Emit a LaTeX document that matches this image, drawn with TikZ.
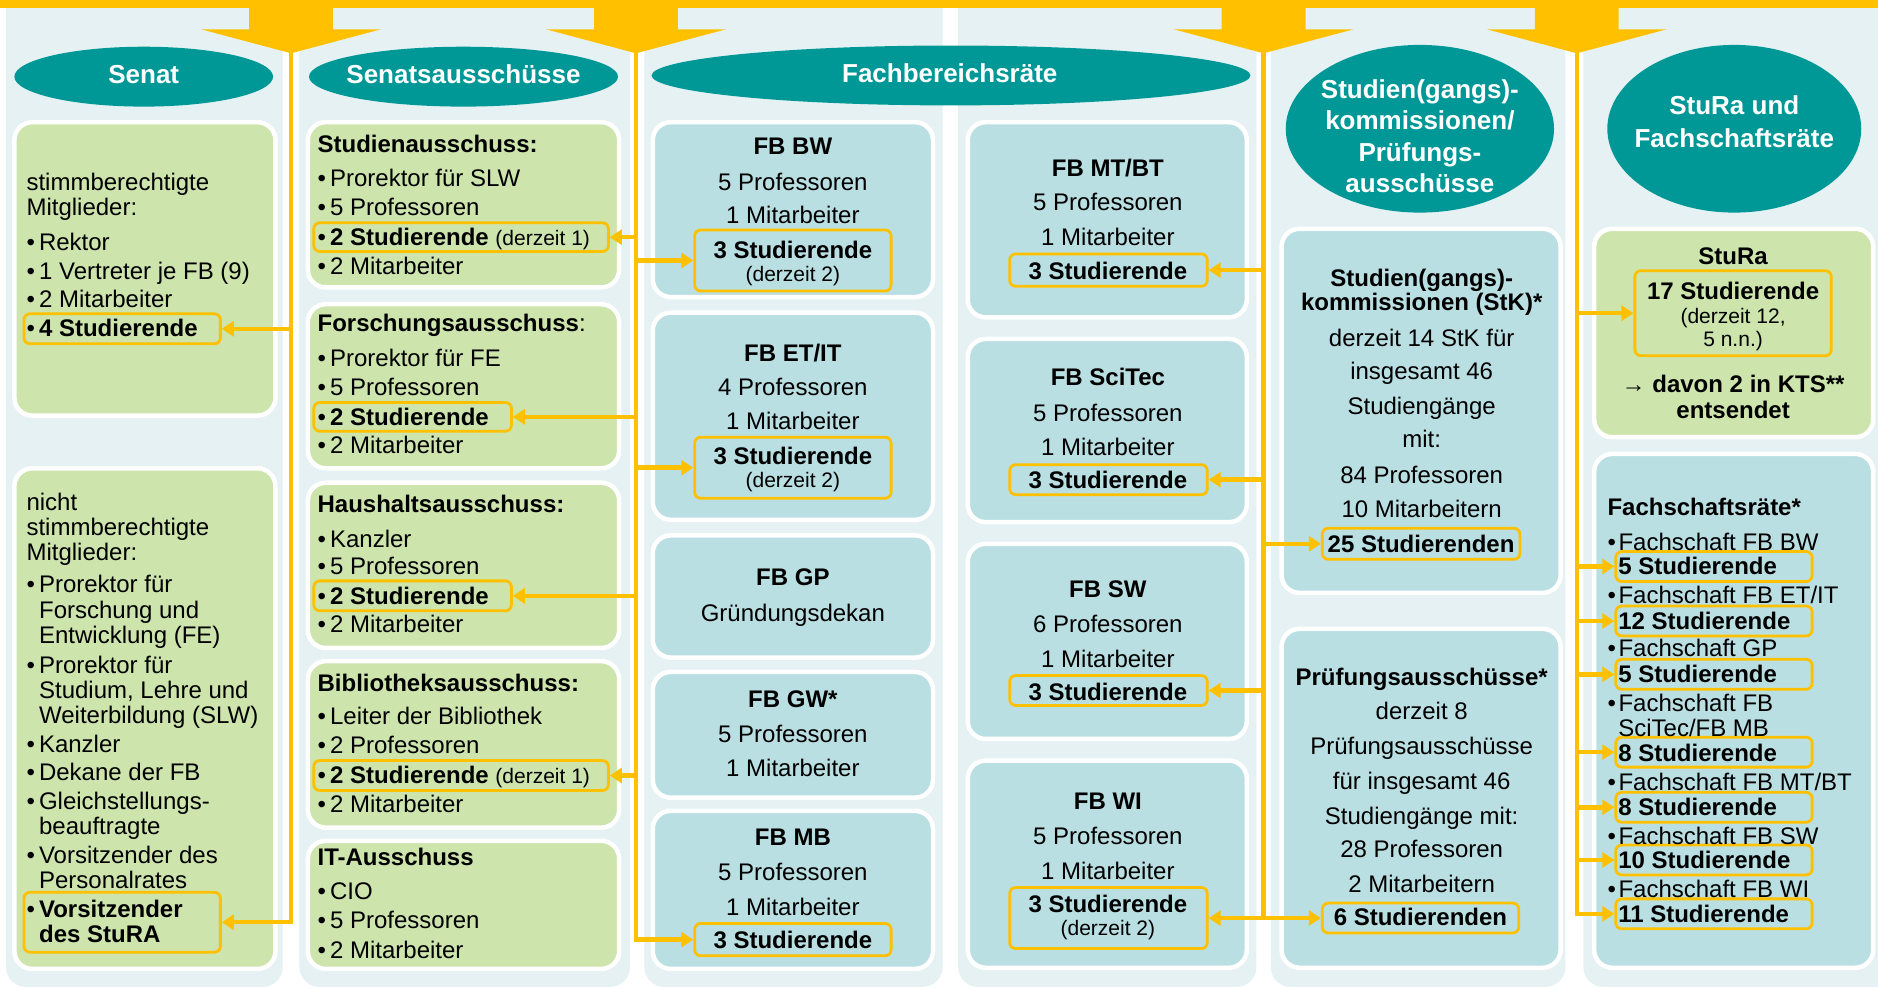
\documentclass[tikz,border=0pt]{standalone}
\usepackage{fontspec}
\setmainfont{Liberation Sans}
\usetikzlibrary{arrows.meta,fit}
\definecolor{ylw}{HTML}{FFC000}
\definecolor{tealh}{HTML}{009896}
\definecolor{colbg}{HTML}{E5F1F3}
\definecolor{grn}{HTML}{CDE4AD}
\definecolor{lbl}{HTML}{BADFE2}
\tikzset{
  tx/.style={inner sep=0pt, font=\fontsize{24}{28}\selectfont},
  hd/.style={inner sep=0pt, text=white, font=\bfseries\fontsize{26}{30}\selectfont, anchor=base},
  hl/.style={draw=ylw, line width=2.8pt, rounded corners=6pt, inner sep=0pt},
  greenbox/.style={draw=white, line width=4.5pt, fill=grn, rounded corners=18pt},
  bluebox/.style={draw=white, line width=4.5pt, fill=lbl, rounded corners=18pt},
  panel/.style={fill=colbg, rounded corners=20pt},
  arr/.style={draw=ylw, line width=4.5pt, -{Triangle[length=12pt,width=15pt]}},
  headell/.style={fill=tealh}
}
\newcommand\mytl[4]{\node[tx,anchor=base west] (#1) at (#2,#3) {#4};}
\newcommand\mytc[4]{\node[tx,anchor=base] (#1) at (#2,#3) {#4};}
\newcommand\myhl[5]{\node[hl,fit={(#2,#3) (#4,#5)}] (#1) {};}
\newcommand\mybu{\makebox[12.5pt][l]{•}}
\newcommand\mybv{\makebox[11pt][l]{•}}
\newcommand\mysm[1]{{\fontsize{21}{24}\selectfont #1}}
\begin{document}
\begin{tikzpicture}[x=1.1977pt,y=-1.1977pt]
\useasboundingbox (0,0) rectangle (1568,825);
\fill[white] (0,0) rectangle (1568,825);
% column panels
\fill[panel] (5,-40) rectangle (236,824);
\fill[panel] (250,-40) rectangle (526,824);
\fill[panel] (538,-40) rectangle (787,824);
\fill[panel] (800,-40) rectangle (1049,824);
\fill[panel] (1061,-40) rectangle (1307,824);
\fill[panel] (1322,-40) rectangle (1600,824);
% top band and arrows
\fill[ylw] (0,0) rectangle (1568,6.5);
\fill[ylw] (208,5) -- (208,24.5) -- (168,24.5) -- (243,44.5) -- (318,24.5) -- (278,24.5) -- (278,5) -- cycle;
\fill[ylw] (496,5) -- (496,24.5) -- (456,24.5) -- (531,44.5) -- (606,24.5) -- (566,24.5) -- (566,5) -- cycle;
\fill[ylw] (1020,5) -- (1020,24.5) -- (980,24.5) -- (1055,44.5) -- (1130,24.5) -- (1090,24.5) -- (1090,5) -- cycle;
\fill[ylw] (1281.5,5) -- (1281.5,24.5) -- (1241.5,24.5) -- (1316.5,44.5) -- (1391.5,24.5) -- (1351.5,24.5) -- (1351.5,5) -- cycle;
% heading ellipses
\fill[headell] (120,64) ellipse [x radius=108, y radius=25];
\fill[headell] (387,64) ellipse [x radius=129, y radius=25];
\fill[headell] (794,63) ellipse [x radius=250, y radius=25];
\fill[headell] (1185.5,107.5) ellipse [x radius=112, y radius=70];
\fill[headell] (1448,107.5) ellipse [x radius=106, y radius=70];
\node[hd] (h1) at (120,70) {Senat};
\node[hd] (h2) at (387,70) {Senatsausschüsse};
\node[hd] (h3) at (793,69) {Fachbereichsräte};
\node[hd] (h4a) at (1185.5,82) {Studien(gangs)-};
\node[hd] (h4b) at (1185.5,108) {kommissionen/};
\node[hd] (h4c) at (1185.5,134.5) {Prüfungs-};
\node[hd] (h4d) at (1185.5,160.5) {ausschüsse};
\node[hd] (h5a) at (1448,96) {StuRa und};
\node[hd] (h5b) at (1448,123) {Fachschaftsräte};
% boxes
\draw[greenbox] (12,102) rectangle (230,347);
\draw[greenbox] (12,391) rectangle (230,809);
\draw[greenbox] (257,102) rectangle (517,240);
\draw[greenbox] (257,254) rectangle (517,391);
\draw[greenbox] (257,403) rectangle (517,541);
\draw[greenbox] (257,552) rectangle (517,691);
\draw[greenbox] (257,702) rectangle (517,809);
\draw[bluebox] (545,102) rectangle (779,248);
\draw[bluebox] (545,261) rectangle (779,434);
\draw[bluebox] (545,447) rectangle (779,549);
\draw[bluebox] (545,561) rectangle (779,666);
\draw[bluebox] (545,677) rectangle (779,809);
\draw[bluebox] (808,102) rectangle (1041,265);
\draw[bluebox] (808,283) rectangle (1041,436);
\draw[bluebox] (808,454) rectangle (1041,617);
\draw[bluebox] (808,635) rectangle (1041,808);
\draw[bluebox] (1070,191) rectangle (1303,495);
\draw[bluebox] (1070,525) rectangle (1303,808);
\draw[greenbox] (1331,191) rectangle (1564,365);
\draw[bluebox] (1331,379) rectangle (1564,808);
% highlight boxes
\myhl{hlS1}{20}{262}{184}{287}
\myhl{hlS2}{20}{745}{184}{795}
\myhl{hlA1}{262}{186}{508}{210}
\myhl{hlA2}{262}{336}{427}{360}
\myhl{hlA3}{262}{485}{427}{510}
\myhl{hlA4}{262}{635}{508}{660}
\myhl{hlBW}{580}{192}{744}{243}
\myhl{hlET}{580}{365}{744}{416}
\myhl{hlMB}{580}{771}{744}{798}
\myhl{hlMT}{843}{212}{1008}{239}
\myhl{hlSC}{843}{388}{1008}{413}
\myhl{hlSW}{843}{564}{1008}{589}
\myhl{hlWI}{843}{741}{1008}{792}
\myhl{hlStK}{1104}{441}{1269}{467}
\myhl{hlPr}{1104}{754}{1268}{779}
\myhl{hlSR}{1365}{226}{1529}{297}
\myhl{fs1}{1349}{460.5}{1513}{485.5}
\myhl{fs2}{1349}{506}{1513}{531}
\myhl{fs3}{1349}{550.5}{1513}{575.5}
\myhl{fs4}{1349}{615.5}{1513}{640.5}
\myhl{fs5}{1349}{661.5}{1513}{686.5}
\myhl{fs6}{1349}{705.5}{1513}{730.5}
\myhl{fs7}{1349}{750.5}{1513}{775.5}
% Senat texts
\mytl{sa1}{22}{159}{stimmberechtigte}
\mytl{sa2}{22}{180}{Mitglieder:}
\mytl{sa3}{22}{209}{\mybu Rektor}
\mytl{sa4}{22}{233}{\mybu 1 Vertreter je FB (9)}
\mytl{sa5}{22}{257}{\mybu 2 Mitarbeiter}
\mytl{sa6}{22}{281}{\mybu\textbf{4 Studierende}}
\mytl{sb1}{22}{426}{nicht}
\mytl{sb2}{22}{447}{stimmberechtigte}
\mytl{sb3}{22}{468}{Mitglieder:}
\mytl{sb4}{22}{495}{\mybu Prorektor für}
\mytl{sb5}{32.5}{516}{Forschung und}
\mytl{sb6}{32.5}{537}{Entwicklung (FE)}
\mytl{sb7}{22}{562}{\mybu Prorektor für}
\mytl{sb8}{32.5}{583}{Studium, Lehre und}
\mytl{sb9}{32.5}{604}{Weiterbildung (SLW)}
\mytl{sb10}{22}{628}{\mybu Kanzler}
\mytl{sb11}{22}{652}{\mybu Dekane der FB}
\mytl{sb12}{22}{676}{\mybu Gleichstellungs-}
\mytl{sb13}{32.5}{697}{beauftragte}
\mytl{sb14}{22}{721}{\mybu Vorsitzender des}
\mytl{sb15}{32.5}{742}{Personalrates}
\mytl{sb16}{22}{766}{\mybu\textbf{Vorsitzender}}
\mytl{sb17}{32.5}{787}{\textbf{des StuRA}}
% Senatsausschuesse texts
\mytl{aa1}{265}{127}{\textbf{Studienausschuss:}}
\mytl{aa2}{265}{156}{\mybu Prorektor für SLW}
\mytl{aa3}{265}{180}{\mybu 5 Professoren}
\mytl{aa4}{265}{205}{\mybu\textbf{2 Studierende} \mysm{(derzeit 1)}}
\mytl{aa5}{265}{229}{\mybu 2 Mitarbeiter}
\mytl{ab1}{265}{277}{\textbf{Forschungsausschuss}:}
\mytl{ab2}{265}{306}{\mybu Prorektor für FE}
\mytl{ab3}{265}{330}{\mybu 5 Professoren}
\mytl{ab4}{265}{355}{\mybu\textbf{2 Studierende}}
\mytl{ab5}{265}{379}{\mybu 2 Mitarbeiter}
\mytl{ac1}{265}{428}{\textbf{Haushaltsausschuss:}}
\mytl{ac2}{265}{457}{\mybu Kanzler}
\mytl{ac3}{265}{480}{\mybu 5 Professoren}
\mytl{ac4}{265}{504.5}{\mybu\textbf{2 Studierende}}
\mytl{ac5}{265}{528}{\mybu 2 Mitarbeiter}
\mytl{ad1}{265}{577}{\textbf{Bibliotheksausschuss:}}
\mytl{ad2}{265}{605}{\mybu Leiter der Bibliothek}
\mytl{ad3}{265}{629}{\mybu 2 Professoren}
\mytl{ad4}{265}{654}{\mybu\textbf{2 Studierende} \mysm{(derzeit 1)}}
\mytl{ad5}{265}{678}{\mybu 2 Mitarbeiter}
\mytl{ae1}{265}{723}{\textbf{IT-Ausschuss}}
\mytl{ae2}{265}{751}{\mybu CIO}
\mytl{ae3}{265}{775}{\mybu 5 Professoren}
\mytl{ae4}{265}{800}{\mybu 2 Mitarbeiter}
% FB column 1
\mytc{fa1}{662}{129}{\textbf{FB BW}}
\mytc{fa2}{662}{159}{5 Professoren}
\mytc{fa3}{662}{187}{1 Mitarbeiter}
\mytc{fa4}{662}{216}{\textbf{3 Studierende}}
\mytc{fa5}{662}{235}{\mysm{(derzeit 2)}}
\mytc{fb1}{662}{302}{\textbf{FB ET/IT}}
\mytc{fb2}{662}{330}{4 Professoren}
\mytc{fb3}{662}{359}{1 Mitarbeiter}
\mytc{fb4}{662}{388}{\textbf{3 Studierende}}
\mytc{fb5}{662}{407}{\mysm{(derzeit 2)}}
\mytc{fc1}{662}{489}{\textbf{FB GP}}
\mytc{fc2}{662}{519}{Gründungsdekan}
\mytc{fd1}{662}{591}{\textbf{FB GW*}}
\mytc{fd2}{662}{620}{5 Professoren}
\mytc{fd3}{662}{648}{1 Mitarbeiter}
\mytc{fe1}{662}{706}{\textbf{FB MB}}
\mytc{fe2}{662}{735}{5 Professoren}
\mytc{fe3}{662}{764}{1 Mitarbeiter}
\mytc{fe4}{662}{792}{\textbf{3 Studierende}}
% FB column 2
\mytc{ga1}{925}{147}{\textbf{FB MT/BT}}
\mytc{ga2}{925}{176}{5 Professoren}
\mytc{ga3}{925}{205}{1 Mitarbeiter}
\mytc{ga4}{925}{233}{\textbf{3 Studierende}}
\mytc{gb1}{925}{322}{\textbf{FB SciTec}}
\mytc{gb2}{925}{352}{5 Professoren}
\mytc{gb3}{925}{380}{1 Mitarbeiter}
\mytc{gb4}{925}{408}{\textbf{3 Studierende}}
\mytc{gc1}{925}{499}{\textbf{FB SW}}
\mytc{gc2}{925}{528}{6 Professoren}
\mytc{gc3}{925}{557}{1 Mitarbeiter}
\mytc{gc4}{925}{585}{\textbf{3 Studierende}}
\mytc{gd1}{925}{676}{\textbf{FB WI}}
\mytc{gd2}{925}{705}{5 Professoren}
\mytc{gd3}{925}{734}{1 Mitarbeiter}
\mytc{gd4}{925}{762}{\textbf{3 Studierende}}
\mytc{gd5}{925}{781}{\mysm{(derzeit 2)}}
% StK / Pruefung
\mytc{ka1}{1187}{239}{\textbf{Studien(gangs)-}}
\mytc{ka2}{1187}{259}{\textbf{kommissionen (StK)*}}
\mytc{ka3}{1187}{289}{derzeit 14 StK für}
\mytc{ka4}{1187}{317}{insgesamt 46}
\mytc{ka5}{1187}{346}{Studiengänge}
\mytc{ka6}{1187}{374}{mit:}
\mytc{ka7}{1187}{404}{84 Professoren}
\mytc{ka8}{1187}{432}{10 Mitarbeitern}
\mytc{ka9}{1186.5}{461}{\textbf{25 Studierenden}}
\mytc{pa1}{1187}{572}{\textbf{Prüfungsausschüsse*}}
\mytc{pa2}{1187}{601}{derzeit 8}
\mytc{pa3}{1187}{630}{Prüfungsausschüsse}
\mytc{pa4}{1187}{659}{für insgesamt 46}
\mytc{pa5}{1187}{688}{Studiengänge mit:}
\mytc{pa6}{1187}{716}{28 Professoren}
\mytc{pa7}{1187}{745}{2 Mitarbeitern}
\mytc{pa8}{1186}{773}{\textbf{6 Studierenden}}
% StuRa
\mytc{ra1}{1447}{221}{\textbf{StuRa}}
\mytc{ra2}{1447}{250}{\textbf{17 Studierende}}
\mytc{ra3}{1447}{270}{\mysm{(derzeit 12,}}
\mytc{ra4}{1447}{289}{\mysm{5 n.n.)}}
\mytc{ra5}{1447}{328}{\textbf{→ davon 2 in KTS**}}
\mytc{ra6}{1447}{349}{\textbf{entsendet}}
% Fachschaftsraete
\mytl{fr0}{1342}{430}{\textbf{Fachschaftsräte*}}
\mytl{fr1}{1342}{459.5}{\mybv Fachschaft FB BW}
\mytl{fr2}{1351}{480}{\textbf{5 Studierende}}
\mytl{fr3}{1342}{504}{\mybv Fachschaft FB ET/IT}
\mytl{fr4}{1351}{525.5}{\textbf{12 Studierende}}
\mytl{fr5}{1342}{548}{\mybv Fachschaft GP}
\mytl{fr6}{1351}{570}{\textbf{5 Studierende}}
\mytl{fr7}{1342}{594}{\mybv Fachschaft FB}
\mytl{fr8}{1351}{615}{SciTec/FB MB}
\mytl{fr9}{1351}{635.5}{\textbf{8 Studierende}}
\mytl{fr10}{1342}{660}{\mybv Fachschaft FB MT/BT}
\mytl{fr11}{1351}{681}{\textbf{8 Studierende}}
\mytl{fr12}{1342}{705}{\mybv Fachschaft FB SW}
\mytl{fr13}{1351}{725}{\textbf{10 Studierende}}
\mytl{fr14}{1342}{749}{\mybv Fachschaft FB WI}
\mytl{fr15}{1351}{770}{\textbf{11 Studierende}}
% trunks and connectors
\coordinate (L1t) at (243,44);
\coordinate (L2t) at (531,44);
\coordinate (L3t) at (1055,44);
\coordinate (L4t) at (1316.5,44);
\draw[arr] (L1t) |- (hlS2.east);
\draw[arr] (L1t |- hlS1.east) -- (hlS1.east);
\draw[arr] (L2t) |- (hlMB.west);
\draw[arr] (L2t |- hlA1.east) -- (hlA1.east);
\draw[arr] (L2t |- hlA2.east) -- (hlA2.east);
\draw[arr] (L2t |- hlA3.east) -- (hlA3.east);
\draw[arr] (L2t |- hlA4.east) -- (hlA4.east);
\draw[arr] (L2t |- hlBW.west) -- (hlBW.west);
\draw[arr] (L2t |- hlET.west) -- (hlET.west);
\draw[arr] (L3t) |- (hlPr.west);
\draw[arr] (L3t |- hlWI.east) -- (hlWI.east);
\draw[arr] (L3t |- hlMT.east) -- (hlMT.east);
\draw[arr] (L3t |- hlSC.east) -- (hlSC.east);
\draw[arr] (L3t |- hlSW.east) -- (hlSW.east);
\draw[arr] (L3t |- hlStK.west) -- (hlStK.west);
\draw[arr] (L4t) |- (fs7.west);
\draw[arr] (L4t |- hlSR.west) -- (hlSR.west);
\draw[arr] (L4t |- fs1.west) -- (fs1.west);
\draw[arr] (L4t |- fs2.west) -- (fs2.west);
\draw[arr] (L4t |- fs3.west) -- (fs3.west);
\draw[arr] (L4t |- fs4.west) -- (fs4.west);
\draw[arr] (L4t |- fs5.west) -- (fs5.west);
\draw[arr] (L4t |- fs6.west) -- (fs6.west);
\end{tikzpicture}
\end{document}
